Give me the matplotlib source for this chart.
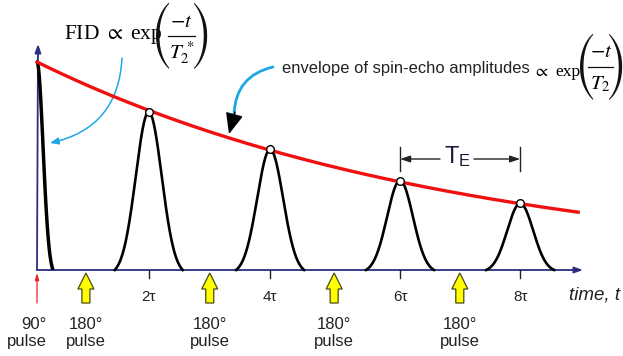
import numpy as np
import matplotlib
matplotlib.use("Agg")
import matplotlib.pyplot as plt
from matplotlib import font_manager
from matplotlib.patches import FancyArrow

plt.rcParams['mathtext.fontset'] = 'stix'

# ---------------- data ----------------
echo_labels = ['2τ', '4τ', '6τ', '8τ']
echo_times = [1.85, 3.86, 6.01, 8.0]          # in units of tau
echo_amps = [0.76, 0.58, 0.43, 0.32]          # relative amplitudes
pulse_times = [0.81, 2.86, 4.92, 7.0]         # 180 degree pulses
pulse_labels = ['180°\npulse'] * 4
t90 = 0.0
T2 = 7.0                                      # envelope decay constant
env_end = 8.96
echo_sigma = 0.215
echo_half_base = 0.563
fid_sigma = 0.10
fid_half_base = 0.265

SANS = 'Liberation Sans'
SERIF = 'Liberation Serif'
NAVY = '#2B2E83'
BLUE = '#1EA7E4'
_names = {f.name for f in font_manager.fontManager.ttflist}
PAREN = 'STIXSizeTwoSym' if 'STIXSizeTwoSym' in _names else 'STIXGeneral'

fig = plt.figure(figsize=(6.23, 3.56), dpi=100)
ax = fig.add_axes([0, 0, 1, 1])
X0, XS, Y0, YS = 37.0, 60.4, 270.0, 208.0
ax.set_xlim(-X0 / XS, (623 - X0) / XS)
ax.set_ylim(-(356 - Y0) / YS, Y0 / YS)
ax.axis('off')


def px(x, y):
    return ((x - X0) / XS, (Y0 - y) / YS)


def bump(t, c, a, s, hb):
    c0 = np.exp(-hb ** 2 / (2 * s ** 2))
    g = (np.exp(-(t - c) ** 2 / (2 * s ** 2)) - c0) / (1 - c0)
    return a * np.clip(g, 0, None)


def formula(xl, xr, yc, num, den, yn, yd, size, psize, barw):
    ax.text(*px(xl, yc), '(', ha='center', va='center', fontsize=psize, family=PAREN, color='#111111')
    ax.text(*px(xr, yc), ')', ha='center', va='center', fontsize=psize, family=PAREN, color='#111111')
    xm = (xl + xr) / 2
    ax.text(*px(xm, yn), num, ha='center', va='center', fontsize=size, color='black')
    ax.text(*px(xm, yd), den, ha='center', va='center', fontsize=size, color='black')
    x1, _ = px(xm - barw / 2, yc)
    x2, yb = px(xm + barw / 2, yc)
    ax.plot([x1, x2], [yb, yb], color='#111111', lw=0.9)


# axes
ax.annotate('', xy=px(583, 270), xytext=(0, 0),
            arrowprops=dict(arrowstyle='-|>,head_length=0.5,head_width=0.18', color=NAVY, lw=1.3,
                            shrinkA=0, shrinkB=0), zorder=2)
ax.annotate('', xy=px(38, 44), xytext=(0, 0),
            arrowprops=dict(arrowstyle='-|>,head_length=0.5,head_width=0.18', color=NAVY, lw=1.3,
                            shrinkA=0, shrinkB=0), zorder=2)

# envelope
te = np.linspace(0, env_end, 300)
ax.plot(te, np.exp(-te / T2), color='#F01010', lw=2.4, zorder=4)

# FID
tf = np.linspace(0, fid_half_base, 60)
ax.plot(tf, bump(tf, 0, 1.0, fid_sigma, fid_half_base), color='black', lw=2.5, zorder=3,
        solid_capstyle='butt')

# echoes
for c, a in zip(echo_times, echo_amps):
    tt = np.linspace(c - echo_half_base, c + echo_half_base, 200)
    ax.plot(tt, bump(tt, c, a, echo_sigma, echo_half_base), color='black', lw=1.9, zorder=3)
ax.plot(echo_times, echo_amps, 'o', ms=5.5, mfc='white', mec='black', mew=1.0, zorder=5)

# ticks and labels
for c, lab in zip(echo_times, echo_labels):
    ax.plot([c, c], [0, -8 / YS], color='#222222', lw=1.0)
    ax.text(c, px(0, 297)[1], lab, ha='center', va='center', fontsize=11, family=SANS, color='#222222')

ax.text(*px(569, 295), 'time, t', ha='left', va='center', fontsize=13.5, style='italic',
        family=SANS, color='#222222')

# 90 pulse
ax.annotate('', xy=px(37, 273), xytext=px(37, 303),
            arrowprops=dict(arrowstyle='-|>,head_length=0.4,head_width=0.12', color='#E8202A', lw=0.9,
                            shrinkA=0, shrinkB=0))
ax.text(*px(27, 333), '90°\npulse', ha='center', va='center', fontsize=12, family=SANS,
        color='#222222', linespacing=1.15, multialignment='right')

# 180 pulses
for p, lab in zip(pulse_times, pulse_labels):
    b = px(0, 303)[1]
    ax.add_patch(FancyArrow(p, b, 0, 30 / YS, width=8 / XS, head_width=16 / XS, head_length=16 / YS,
                            length_includes_head=True, fc='#FFFF00', ec='#4A4A10', lw=0.9, zorder=3))
    ax.text(p, px(0, 333)[1], lab, ha='center', va='center', fontsize=12, family=SANS,
            color='#222222', linespacing=1.15)

# T_E marker
yT = px(0, 159)[1]
for c in echo_times[2:]:
    ax.plot([c, c], [px(0, 147)[1], px(0, 171)[1]], color='#222222', lw=1.0)
ax.annotate('', xy=(echo_times[2], yT), xytext=(px(440, 0)[0], yT),
            arrowprops=dict(arrowstyle='-|>,head_length=0.6,head_width=0.2', color='#222222', lw=1.0,
                            shrinkA=0, shrinkB=0))
ax.annotate('', xy=(echo_times[3], yT), xytext=(px(474, 0)[0], yT),
            arrowprops=dict(arrowstyle='-|>,head_length=0.6,head_width=0.2', color='#222222', lw=1.0,
                            shrinkA=0, shrinkB=0))
ax.text(*px(457, 157), r'$\mathregular{T_E}$', ha='center', va='center', fontsize=17,
        family=SANS, color='#1A1A3A')

# FID label
ax.text(*px(64, 39), r'FID $\propto$ exp', ha='left', va='baseline',
        fontsize=15.5, family=SERIF, color='black')
formula(162, 201, 36, r'$-t$', r'$T_2^{\,*}$', 21, 53, 15, 26, 27)
ax.annotate('', xy=px(50, 143), xytext=px(122, 58),
            arrowprops=dict(arrowstyle='-|>,head_length=0.5,head_width=0.2', color=BLUE, lw=1.1,
                            connectionstyle='arc3,rad=-0.38', shrinkA=0, shrinkB=0))

# envelope label
ax.text(*px(282, 68), 'envelope of spin-echo amplitudes', ha='left', va='center',
        fontsize=11.9, family=SANS, color='#222222')
ax.text(*px(533, 76), r'$\propto$', ha='left', va='baseline', fontsize=12.5, color='black')
ax.text(*px(555, 76), 'exp', ha='left', va='baseline', fontsize=12.5, family=SERIF, color='black')
formula(586, 615.5, 67, r'$-t$', r'$T_2$', 51, 84, 15, 26, 25)
ax.annotate('', xy=px(234, 114), xytext=px(273, 67),
            arrowprops=dict(arrowstyle='-', color=BLUE, lw=2.0,
                            connectionstyle='arc3,rad=0.38', shrinkA=0, shrinkB=0))
ax.annotate('', xy=px(229, 134), xytext=px(235, 112),
            arrowprops=dict(arrowstyle='-|>,head_length=1.3,head_width=0.55', color='black', lw=1.0,
                            shrinkA=0, shrinkB=0))

fig.savefig('out.png', dpi=100)
